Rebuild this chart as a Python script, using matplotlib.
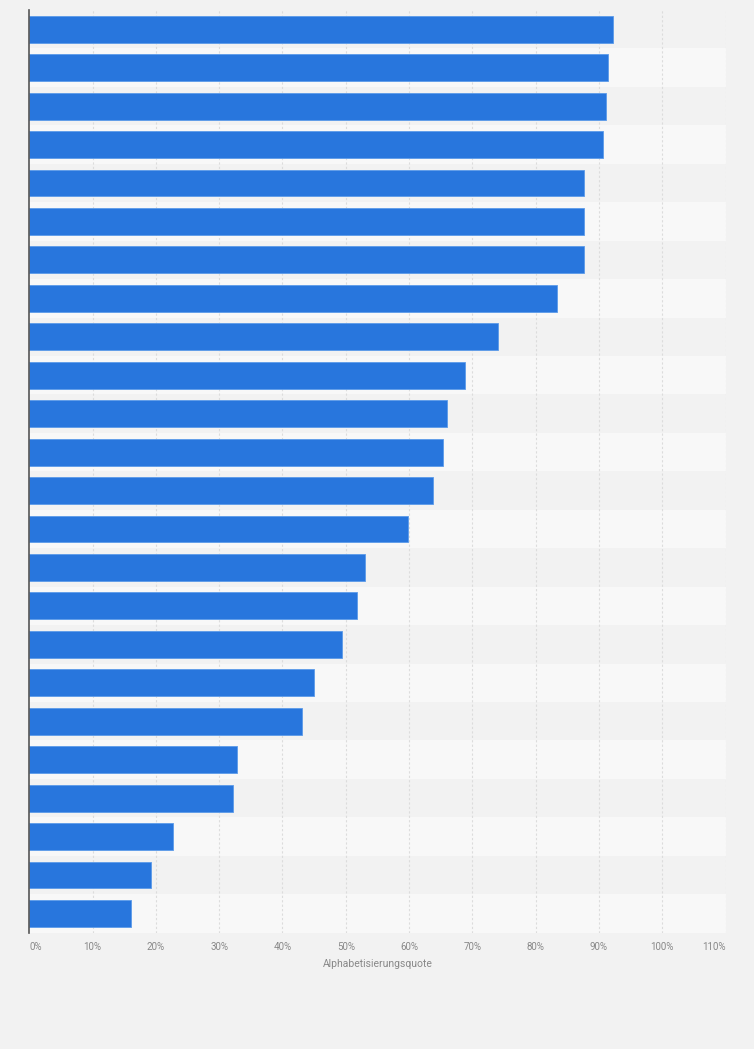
import matplotlib
matplotlib.use("Agg")
import matplotlib.pyplot as plt
import numpy as np

# Literacy rate values (%), top to bottom
values = [92.3, 91.5, 91.1, 90.7, 87.7, 87.6, 87.6, 83.3, 74.0, 68.9, 66.0, 65.4,
          63.8, 59.9, 53.1, 51.8, 49.4, 45.0, 43.1, 32.8, 32.2, 22.7, 19.3, 16.1]
xticks = [0, 10, 20, 30, 40, 50, 60, 70, 80, 90, 100, 110]
xtick_labels = [f"{t}%" for t in xticks]
xlabel = "Alphabetisierungsquote"

plt.rcParams['font.family'] = ['Roboto', 'DejaVu Sans']

fig = plt.figure(figsize=(7.54, 10.49), dpi=100, facecolor='#f2f2f2')
ax = fig.add_axes([29.3 / 754, 116.3 / 1049, (725.5 - 29.3) / 754, (932.7 - 10) / 1049])
ax.set_facecolor('none')

n = len(values)
pos = np.arange(n)

# alternating row bands
for i in range(n):
    if i % 2 == 1:
        ax.axhspan(i - 0.5, i + 0.5, color='#f8f8f8', zorder=0, lw=0)

# gridlines
for t in xticks[1:]:
    ax.axvline(t, color='#dcdcdc', lw=0.8, ls=(0, (2, 2)), zorder=1)

ax.barh(pos, values, height=0.7, color='#2876dd', edgecolor='#5c9be9', linewidth=0.6, zorder=2)

ax.set_xlim(0, 110)
ax.set_ylim(n - 0.5, -0.5)

for s in ['top', 'right', 'bottom']:
    ax.spines[s].set_visible(False)
ax.spines['left'].set_color('#555555')
ax.spines['left'].set_linewidth(1.2)
ax.set_yticks([])
ax.set_xticks(xticks)
ax.set_xticklabels(xtick_labels, fontsize=7, color='#888888')
ax.tick_params(axis='x', length=0, pad=7)
labs = ax.get_xticklabels()
labs[0].set_ha('left')
labs[-1].set_ha('right')
ax.set_xlabel(xlabel, fontsize=7.5, color='#888888', labelpad=5)

fig.savefig('out.png', dpi=100, facecolor=fig.get_facecolor())
